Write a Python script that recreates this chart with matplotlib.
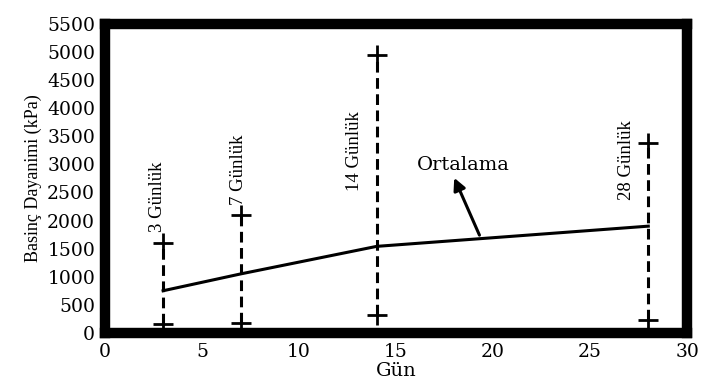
import matplotlib.pyplot as plt

# values
days = [3, 7, 14, 28]
labels = ['3 Günlük', '7 Günlük', '14 Günlük', '28 Günlük']
max_kpa = [1600, 2100, 4950, 3380]
min_kpa = [150, 170, 310, 230]
mean_kpa = [750, 1050, 1540, 1900]

plt.rcParams['font.family'] = ['DejaVu Serif']

fig = plt.figure(figsize=(7.04, 3.8), dpi=100)
ax = fig.add_axes([0.149, 0.124, 0.827, 0.813])

for d, lo, hi in zip(days, min_kpa, max_kpa):
    ax.plot([d, d], [lo, hi], color='black', lw=2.2, ls=(0, (3.5, 1.8)))
    ax.plot([d, d], [lo, hi], '+', color='black', ms=14, mew=2)

ax.plot(days, mean_kpa, color='black', lw=2.2)  # ortalama

# rotated day labels (narrow serif like the original)
lab_pos = [(2.73, 2430), (6.86, 2910), (12.85, 3230), (26.9, 3070)]
for (x, y), t in zip(lab_pos, labels):
    ax.text(x, y, t, rotation=90, ha='center', va='center', fontsize=13.5,
            family=['Liberation Serif', 'DejaVu Serif'])

ax.text(18.45, 2980, 'Ortalama', ha='center', va='center', fontsize=14)
ax.annotate('', xy=(18.0, 2760), xytext=(19.3, 1740),
            arrowprops=dict(arrowstyle='-|>', color='black', lw=2.2,
                            mutation_scale=18, shrinkA=0, shrinkB=0))

ax.set_xlim(0, 30)
ax.set_ylim(0, 5500)
ax.set_xticks(range(0, 31, 5))
ax.set_yticks(range(0, 5501, 500))
ax.tick_params(length=0, labelsize=13.5, pad=7)
for s in ax.spines.values():
    s.set_linewidth(7.5)
ax.set_xlabel('Gün', fontsize=14, labelpad=1)
ax.set_ylabel('Basinç Dayanimi (kPa)', fontsize=13, labelpad=4,
              family=['Liberation Serif', 'DejaVu Serif'])

fig.savefig('out.png', dpi=100)
